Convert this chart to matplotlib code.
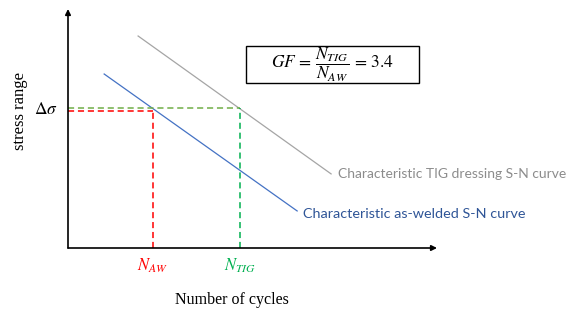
import matplotlib.pyplot as plt
from matplotlib.patches import Rectangle

plt.rcParams['mathtext.fontset'] = 'stix'

# schematic S-N curves (arbitrary units: x = cycles, y = stress range)
aw_x = [0.98, 6.21]
aw_y = [7.28, 1.55]
tig_x = [1.90, 7.13]
tig_y = [8.87, 3.10]
stress_level = 5.80
n_aw = 2.30
n_tig = 4.66
gf_value = 3.4

fig = plt.figure(figsize=(5.69, 3.13), dpi=100)
ax = fig.add_axes([68 / 569, 65 / 313, 369 / 569, 239 / 313])
ax.set_xlim(0, 10)
ax.set_ylim(0, 10)
ax.axis('off')

# axes with arrows
arrow = dict(arrowstyle='-|>', lw=1.2, color='black', mutation_scale=8,
             shrinkA=0, shrinkB=0)
ax.annotate('', xy=(10, 0), xytext=(0, 0), arrowprops=arrow, annotation_clip=False)
ax.annotate('', xy=(0, 10), xytext=(0, 0), arrowprops=arrow, annotation_clip=False)

# curves
ax.plot(tig_x, tig_y, color='#a5a5a5', lw=0.9)
ax.plot(aw_x, aw_y, color='#4472c4', lw=0.9)

# dashed guide lines
dash = (0, (4, 2.5))
ax.plot([0, n_tig], [stress_level + 0.05] * 2, color='#70ad47', lw=1.1, linestyle=dash)
ax.plot([n_tig, n_tig], [0, stress_level + 0.05], color='#00b050', lw=1.1, linestyle=dash)
ax.plot([0, n_aw], [stress_level - 0.05] * 2, color='#ff0000', lw=1.1, linestyle=dash)
ax.plot([n_aw, n_aw], [0, stress_level - 0.05], color='#ff0000', lw=1.1, linestyle=dash)

# curve labels
ax.text(tig_x[1] + 0.2, tig_y[1], 'Characteristic TIG dressing S-N curve',
        color='#8c8c8c', fontsize=10, family='Lato', ha='left', va='center')
ax.text(aw_x[1] + 0.15, aw_y[1] - 0.13, 'Characteristic as-welded S-N curve',
        color='#2f5597', fontsize=10.4, family='Lato', ha='left', va='center')

# axis labels
ax.text(-0.6, stress_level, r'$\Delta\sigma$', fontsize=12.5, ha='center', va='center')
ax.text(n_aw, -0.75, r'$N_{AW}$', color='#ff0000', fontsize=12, ha='center', va='center')
ax.text(n_tig, -0.75, r'$N_{TIG}$', color='#00b050', fontsize=12, ha='center', va='center')
ax.text(-1.3, 5.75, 'stress range', rotation=90, fontsize=12,
        family='Liberation Serif', ha='center', va='center')
ax.text(4.45, -2.18, 'Number of cycles', fontsize=11.5, family='Liberation Serif',
        ha='center', va='center')

# gain factor box
ax.add_patch(Rectangle((4.82, 6.90), 4.69, 1.55, fill=False, ec='black', lw=1.0,
                       clip_on=False))
ax.text(7.17, 7.67, r'$GF\,=\,\dfrac{N_{TIG}}{N_{AW}}\,=\,' + f'{gf_value}' + '$',
        fontsize=12.5, ha='center', va='center')

fig.savefig('out.png', dpi=100)
